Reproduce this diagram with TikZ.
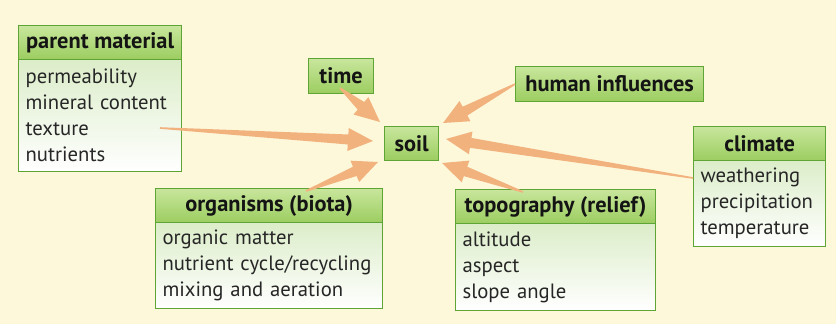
\documentclass[tikz,border=0pt]{standalone}
\usepackage{fontspec}
\setmainfont{PT Sans}
\usetikzlibrary{calc}
\definecolor{bg}{HTML}{FDF8DA}
\definecolor{hdrtop}{HTML}{C8E69C}
\definecolor{hdrbot}{HTML}{9CCD60}
\definecolor{bodytop}{HTML}{DCEDC9}
\definecolor{boxline}{HTML}{5EA535}
\definecolor{arr}{HTML}{F2B27E}
\newcommand\wedgearrow[2]{%
  \coordinate (wB) at ($(#2)!25pt!(#1)$);
  \fill[arr] ($(#1)!0.8pt!90:(#2)$) -- ($(wB)!5pt!90:(#2)$) -- ($(wB)!11.5pt!90:(#2)$)
    -- (#2) -- ($(wB)!11.5pt!-90:(#2)$) -- ($(wB)!5pt!-90:(#2)$) -- ($(#1)!0.8pt!-90:(#2)$) -- cycle;}
\begin{document}
\begin{tikzpicture}[x=1pt,y=-1pt,
  hdr/.style={draw=boxline, line width=1.2pt, top color=hdrtop, bottom color=hdrbot,
    anchor=north west, inner sep=0pt, font=\fontsize{22.4}{26}\selectfont\bfseries, text=black!92},
  bodybox/.style={draw=boxline, line width=1.2pt, top color=bodytop, bottom color=white,
    anchor=north west, inner sep=0pt, font=\fontsize{20.7}{26}\selectfont, align=left, text=black!85},
]
\fill[bg] (0,0) rectangle (836,324);
\useasboundingbox (0,0) rectangle (836,324);

% parent material
\node[hdr, minimum width=163pt, minimum height=34pt] (pmh) at (18,25) {parent material};
\node[bodybox, minimum width=163pt, minimum height=112pt, text width=149pt] (pmb) at (18,59)
  {permeability\\mineral content\\texture\\nutrients};
% time
\node[hdr, minimum width=65pt, minimum height=35pt] (time) at (308,58) {time};
% soil
\node[hdr, minimum width=54pt, minimum height=34pt] (soil) at (384,126) {soil};
% human influences
\node[hdr, minimum width=188pt, minimum height=35pt] (hum) at (515,66) {human influences};
% climate
\node[hdr, minimum width=132pt, minimum height=34pt] (climh) at (693,126) {climate};
\node[bodybox, minimum width=132pt, minimum height=86pt, text width=118pt] (climb) at (693,160)
  {weathering\\precipitation\\temperature};
% organisms
\node[hdr, minimum width=227pt, minimum height=34pt] (orgh) at (155,188) {organisms (biota)};
\node[bodybox, minimum width=227pt, minimum height=86pt, text width=213pt] (orgb) at (155,222)
  {organic matter\\nutrient cycle/recycling\\mixing and aeration};
% topography
\node[hdr, minimum width=200pt, minimum height=34pt] (topoh) at (455,189) {topography (relief)};
\node[bodybox, minimum width=200pt, minimum height=87pt, text width=186pt] (topob) at (455,223)
  {altitude\\aspect\\slope angle};

% arrow tails and tips
\coordinate (t1) at (160,128);  \coordinate (p1) at (373,141);
\coordinate (t2) at (340,88);   \coordinate (p2) at (380,122);
\coordinate (t3) at (hum.west); \coordinate (p3) at (443,123);
\coordinate (t4) at (693,178);  \coordinate (p4) at (446,139);
\coordinate (t5) at (306,191);  \coordinate (p5) at (378,162);
\coordinate (t6) at (523,192);  \coordinate (p6) at (442,163);
\wedgearrow{t1}{p1}
\wedgearrow{t2}{p2}
\wedgearrow{t3}{p3}
\wedgearrow{t4}{p4}
\wedgearrow{t5}{p5}
\wedgearrow{t6}{p6}
\end{tikzpicture}
\end{document}
